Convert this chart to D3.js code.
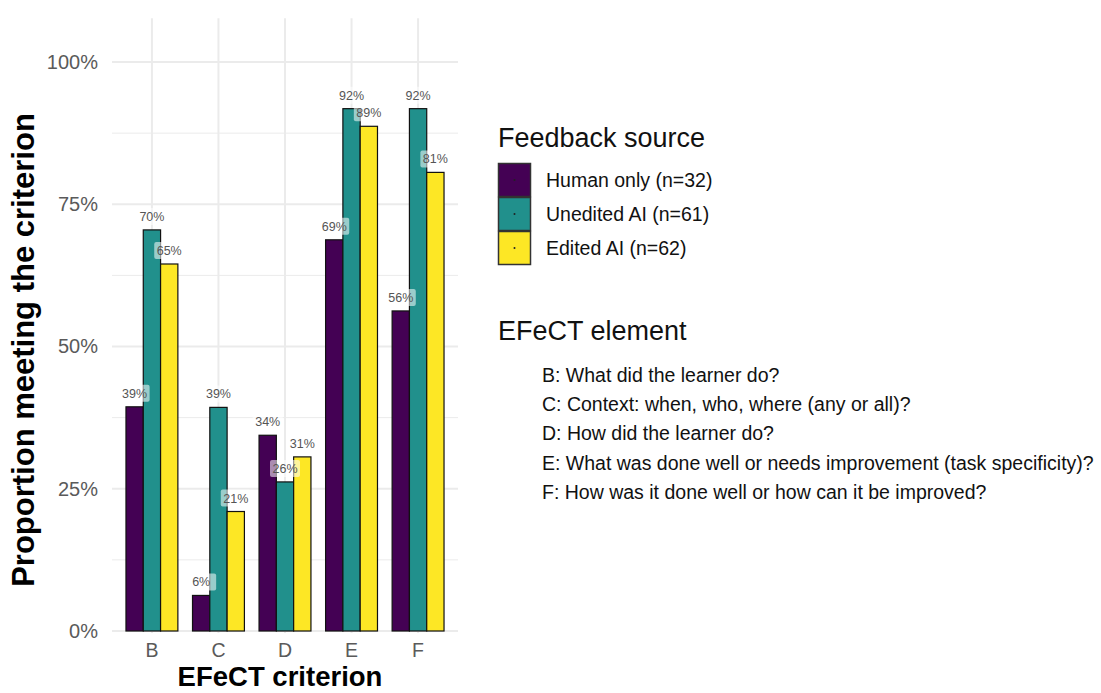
<!DOCTYPE html>
<html lang="en">
<head>
<meta charset="UTF-8">
<title>EFeCT criterion</title>
<script src="https://cdn.jsdelivr.net/npm/d3@7"></script>
<style>
    body{ margin:0px; background:white; }
    text{ font-family: "Liberation Sans", Arial, sans-serif; }
</style>
</head>
<body>
<svg id="chart"></svg>
<script>
    // données
    const criteres = ['B','C','D','E','F'];
    const sources = ['Human only (n=32)','Unedited AI (n=61)','Edited AI (n=62)'];
    const couleurs = ['#440154','#21908C','#FDE725'];
    const humain = [0.394, 0.0625, 0.344, 0.6875, 0.5625];
    const nonEdite = [0.7049, 0.393, 0.262, 0.918, 0.918];
    const edite = [0.645, 0.21, 0.306, 0.887, 0.806];
    const yTicks = [0, 0.25, 0.5, 0.75, 1];
    const yMinor = [0.125, 0.375, 0.625, 0.875];
    const elements = [
        'B: What did the learner do?',
        'C: Context: when, who, where (any or all)?',
        'D: How did the learner do?',
        'E: What was done well or needs improvement (task specificity)?',
        'F: How was it done well or how can it be improved?'
    ];

    const w = 1101, h = 693;
    const svg = d3.select('#chart').attr('width', w).attr('height', h);

    const x = d3.scaleBand().domain(criteres).range([112, 458])
        .paddingInner(0.22).paddingOuter(0.21);
    const xs = d3.scaleBand().domain(sources).range([0, x.bandwidth()]);
    const y = d3.scaleLinear().domain([0, 1]).range([631, 62]);
    const couleur = d3.scaleOrdinal().domain(sources).range(couleurs);

    const yTop = y(1.077);

    // grille
    const grille = svg.append('g');
    grille.selectAll('.mineur').data(yMinor).join('line')
        .attr('x1', 112).attr('x2', 458)
        .attr('y1', d => y(d)).attr('y2', d => y(d))
        .attr('stroke', '#ebebeb').attr('stroke-width', 1);
    grille.selectAll('.majeur').data(yTicks).join('line')
        .attr('x1', 112).attr('x2', 458)
        .attr('y1', d => y(d)).attr('y2', d => y(d))
        .attr('stroke', '#ebebeb').attr('stroke-width', 2);
    grille.selectAll('.vert').data(criteres).join('line')
        .attr('x1', d => x(d) + x.bandwidth() / 2).attr('x2', d => x(d) + x.bandwidth() / 2)
        .attr('y1', yTop).attr('y2', y(0) + 2)
        .attr('stroke', '#ebebeb').attr('stroke-width', 2);

    // table pour les barres
    const series = [humain, nonEdite, edite];
    const donnees = [];
    criteres.forEach((c, i) => {
        sources.forEach((s, j) => {
            donnees.push({crit: c, source: s, val: series[j][i]});
        });
    });

    svg.append('g').selectAll('rect').data(donnees).join('rect')
        .attr('x', d => x(d.crit) + xs(d.source))
        .attr('y', d => y(d.val))
        .attr('width', xs.bandwidth())
        .attr('height', d => y(0) - y(d.val))
        .attr('fill', d => couleur(d.source))
        .attr('stroke', '#111').attr('stroke-width', 1.2);

    // étiquettes
    const etiq = svg.append('g').selectAll('g').data(donnees).join('g')
        .attr('transform', d => 'translate(' + (x(d.crit) + xs(d.source) + xs.bandwidth() / 2) + ',' + (y(d.val) - 13.5) + ')');
    etiq.append('rect')
        .attr('x', -15).attr('y', -8.5).attr('width', 30).attr('height', 17)
        .attr('rx', 2)
        .attr('fill', 'white').attr('fill-opacity', 0.55);
    etiq.append('text')
        .attr('text-anchor', 'middle').attr('dy', '0.36em')
        .attr('font-size', '12.5px').attr('fill', '#555')
        .text(d => d3.format('.0%')(d.val));

    // axes
    const yAxe = svg.append('g').attr('transform', 'translate(104,0)')
        .call(d3.axisLeft(y).tickValues(yTicks).tickFormat(d3.format('.0%')).tickSize(0).tickPadding(6));
    yAxe.select('.domain').remove();
    yAxe.selectAll('text').attr('font-size', '20px').attr('fill', '#5a5a5a')
        .attr('font-family', '"Liberation Sans", Arial, sans-serif');

    const xAxe = svg.append('g').attr('transform', 'translate(0,' + (y(0) + 6) + ')')
        .call(d3.axisBottom(x).tickSize(0).tickPadding(6));
    xAxe.select('.domain').remove();
    xAxe.selectAll('text').attr('font-size', '19.5px').attr('fill', '#5a5a5a')
        .attr('font-family', '"Liberation Sans", Arial, sans-serif');

    svg.append('text')
        .attr('transform', 'translate(34,350) rotate(-90)')
        .attr('text-anchor', 'middle')
        .attr('font-size', '31px').attr('font-weight', 'bold').attr('fill', '#000')
        .text('Proportion meeting the criterion');
    svg.append('text')
        .attr('x', 280).attr('y', 686)
        .attr('text-anchor', 'middle')
        .attr('font-size', '27.5px').attr('font-weight', 'bold').attr('fill', '#000')
        .text('EFeCT criterion');

    // légende
    const leg = svg.append('g').attr('transform', 'translate(498,0)');
    leg.append('text').attr('x', 0).attr('y', 147)
        .attr('font-size', '27px').attr('fill', '#111')
        .text('Feedback source');
    const cles = leg.selectAll('.cle').data(sources).join('g')
        .attr('transform', (d, i) => 'translate(0,' + (163 + i * 34) + ')');
    cles.append('rect').attr('x', 0.5).attr('y', 0.5).attr('width', 32).attr('height', 33)
        .attr('fill', d => couleur(d)).attr('stroke', '#333').attr('stroke-width', 1.5);
    cles.append('circle').attr('cx', 16.5).attr('cy', 17).attr('r', 1)
        .attr('fill', '#222');
    cles.append('text').attr('x', 48).attr('y', 17).attr('dy', '0.36em')
        .attr('font-size', '19.5px').attr('fill', '#111')
        .text(d => d);

    leg.append('text').attr('x', 0).attr('y', 340)
        .attr('font-size', '27px').attr('fill', '#111')
        .text('EFeCT element');
    leg.selectAll('.elem').data(elements).join('text')
        .attr('x', 44).attr('y', (d, i) => 382 + i * 29.2)
        .attr('font-size', '19.5px').attr('fill', '#111')
        .text(d => d);
</script>
</body>
</html>
